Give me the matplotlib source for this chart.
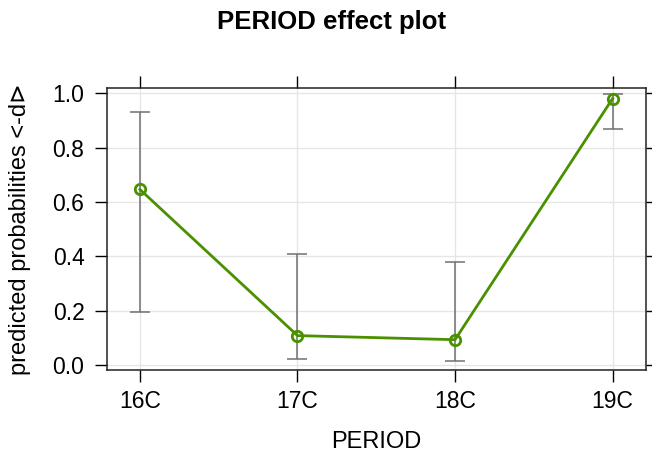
import numpy as np
import matplotlib.pyplot as plt

plt.rcParams['font.family'] = ['Liberation Sans', 'DejaVu Sans']

periods = ['16C', '17C', '18C', '19C']
fit = [0.646, 0.109, 0.094, 0.980]
lower = [0.196, 0.022, 0.017, 0.869]
upper = [0.931, 0.409, 0.379, 0.997]

x = np.arange(len(periods))
fit = np.array(fit)
err = [fit - np.array(lower), np.array(upper) - fit]

fig = plt.figure(figsize=(6.52, 4.57), dpi=100)
ax = fig.add_axes([0.1646, 0.190, 0.8257, 0.617])

ax.grid(True, color='#e6e6e6', linewidth=1)
ax.set_axisbelow(True)
ax.errorbar(x, fit, yerr=err, fmt='none', ecolor='#707070', elinewidth=1.1,
            capsize=7.5, capthick=1.1, zorder=2)
ax.plot(x, fit, color='#4a9000', linewidth=2, marker='o', markersize=7.5,
        markerfacecolor='none', markeredgewidth=2, zorder=3)

ax.set_xlim(-0.207, 3.21)
ax.set_ylim(-0.018, 1.018)
ax.set_xticks(x)
ax.set_xticklabels(periods)
ax.set_yticks(np.arange(0, 1.01, 0.2))
ax.set_yticklabels(['0.0', '0.2', '0.4', '0.6', '0.8', '1.0'])
ax.tick_params(direction='out', length=8.5, width=1, labelsize=16.5, color='black',
               top=True, right=True, labeltop=False, labelright=False)
ax.tick_params(axis='x', pad=6)
ax.tick_params(axis='y', pad=8)
for s in ax.spines.values():
    s.set_linewidth(1.1)
    s.set_color('#222222')

ax.set_xlabel('PERIOD', fontsize=17)
ax.xaxis.set_label_coords(0.5, -0.215)
ax.set_ylabel('predicted probabilities <-d\u22b3', fontsize=17)
ax.yaxis.set_label_coords(-0.142, 0.5)
fig.suptitle('PERIOD effect plot', fontsize=18.5, fontweight='bold', y=0.978, x=0.509)

fig.savefig('out.png', dpi=100)
